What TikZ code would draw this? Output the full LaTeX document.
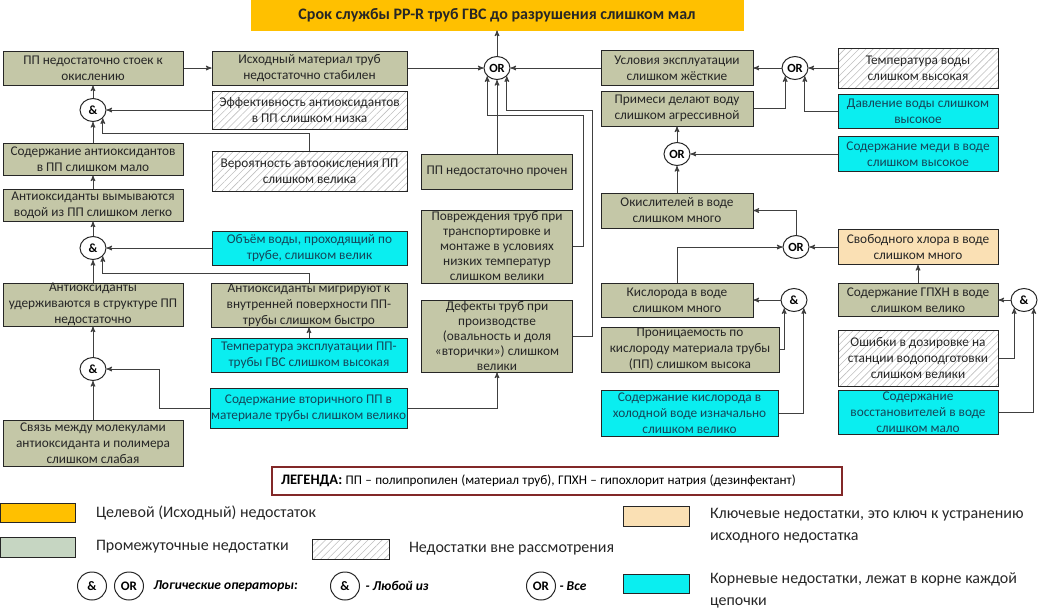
\documentclass[tikz,border=0pt]{standalone}
\usepackage{fontspec}
\setmainfont{Carlito}
\usetikzlibrary{arrows,shapes,calc,positioning,patterns.meta}

\definecolor{goalorange}{RGB}{255,192,0}
\definecolor{midgreen}{RGB}{196,199,167}
\definecolor{legendgreen}{RGB}{198,214,194}
\definecolor{rootcyan}{RGB}{10,238,240}
\definecolor{roottext}{RGB}{20,70,90}
\definecolor{keybeige}{RGB}{250,224,180}
\definecolor{legendred}{RGB}{130,40,40}
\newcommand{\bxf}{\fontsize{13.3}{16}\selectfont}

\begin{document}
\begin{tikzpicture}[x=1pt,y=-1pt,>=stealth',line width=1pt]
  \useasboundingbox (0,0) rectangle (1047,611);
  \begin{scope}
  \tikzstyle{base node}=[draw=black!85,line width=1pt,align=center,inner sep=0pt,font=\bxf,text=black!85]
  \tikzstyle{goal node}=[base node,draw=goalorange,fill=goalorange,font=\bfseries\fontsize{16}{18}\selectfont]
  \tikzstyle{mid node}=[base node,fill=midgreen]
  \tikzstyle{root node}=[base node,fill=rootcyan,text=roottext]
  \tikzstyle{out node}=[base node,pattern={Lines[angle=45,distance=5pt,line width=0.6pt]},pattern color=black!25]
  \tikzstyle{key node}=[base node,fill=keybeige]
  \tikzstyle{and node}=[ellipse,draw=black!85,fill=white,line width=1pt,inner sep=0pt,minimum width=26,minimum height=23,font=\bfseries\fontsize{12.5}{12}\selectfont]
  \tikzstyle{link}=[->,black!75]
  % goal
  \node[goal node,minimum width=492,minimum height=30] (goal) at (497,15) {Срок службы PP-R труб ГВС до разрушения слишком мал};
  \node[and node] (or0) at (497,68) {OR};
  % left branch
  \node[mid node,minimum width=180,minimum height=34] (b1) at (93,68) {ПП недостаточно стоек к\\окислению};
  \node[mid node,minimum width=195,minimum height=34] (b2) at (309.5,68) {Исходный материал труб\\недостаточно стабилен};
  \node[out node,minimum width=195,minimum height=38] (b3) at (309.5,110) {Эффективность антиоксидантов\\в ПП слишком низка};
  \node[out node,minimum width=195,minimum height=40] (b4) at (309.5,171) {Вероятность автоокисления ПП\\слишком велика};
  \node[and node] (and1) at (93,110) {\&};
  \node[mid node,minimum width=180,minimum height=32] (b5) at (93,159) {Содержание антиоксидантов\\в ПП слишком мало};
  \node[mid node,minimum width=180,minimum height=32] (b6) at (93,205) {Антиоксиданты вымываются\\водой из ПП слишком легко};
  \node[and node] (and2) at (93,248) {\&};
  \node[root node,minimum width=195,minimum height=34] (b7) at (309.5,248) {Объём воды, проходящий по\\трубе, слишком велик};
  \node[mid node,minimum width=180,minimum height=43] (b8) at (93,304.5) {Антиоксиданты\\удерживаются в структуре ПП\\недостаточно};
  \node[mid node,minimum width=196,minimum height=44] (b9) at (309,305) {Антиоксиданты мигрируют к\\внутренней поверхности ПП-\\трубы слишком быстро};
  \node[root node,minimum width=196,minimum height=34] (b10) at (309,355) {Температура эксплуатации ПП-\\трубы ГВС слишком высокая};
  \node[and node] (and3) at (93,369) {\&};
  \node[mid node,minimum width=180,minimum height=46] (b11) at (93,443) {Связь между молекулами\\антиоксиданта и полимера\\слишком слабая};
  \node[root node,minimum width=197,minimum height=40] (b12) at (308.5,408) {Содержание вторичного ПП в\\материале трубы слишком велико};
  % middle branch
  \node[mid node,minimum width=151,minimum height=35] (b13) at (497,171.5) {ПП недостаточно прочен};
  \node[mid node,minimum width=151,minimum height=73,font=\fontsize{13.3}{15}\selectfont] (b14) at (497,246.5) {Повреждения труб при\\транспортировке и\\монтаже в условиях\\низких температур\\слишком велики};
  \node[mid node,minimum width=151,minimum height=72,font=\fontsize{13.3}{15}\selectfont] (b15) at (497,336) {Дефекты труб при\\производстве\\(овальность и доля\\«вторички») слишком\\велики};
  % right branch
  \node[mid node,minimum width=152,minimum height=35] (b16) at (677,68) {Условия эксплуатации\\слишком жёсткие};
  \node[and node] (or2) at (795,68) {OR};
  \node[out node,minimum width=160,minimum height=40] (b17) at (918,68) {Температура воды\\слишком высокая};
  \node[root node,minimum width=160,minimum height=34] (b18) at (918,111) {Давление воды слишком\\высокое};
  \node[mid node,minimum width=152,minimum height=35] (b19) at (677,108.5) {Примеси делают воду\\слишком агрессивной};
  \node[and node] (or3) at (677,154) {OR};
  \node[root node,minimum width=160,minimum height=35] (b20) at (918,154) {Содержание меди в воде\\слишком высокое};
  \node[mid node,minimum width=152,minimum height=35] (b21) at (677,210.5) {Окислителей в воде\\слишком много};
  \node[and node] (or4) at (796,247) {OR};
  \node[key node,minimum width=160,minimum height=35] (b22) at (918,247) {Свободного хлора в воде\\слишком много};
  \node[mid node,minimum width=152,minimum height=34] (b23) at (677,300) {Кислорода в воде\\слишком много};
  \node[and node] (and4) at (794,300) {\&};
  \node[mid node,minimum width=178,minimum height=45] (b24) at (690,349.5) {Проницаемость по\\кислороду материала трубы\\(ПП) слишком высока};
  \node[root node,minimum width=177,minimum height=46] (b25) at (689.5,413) {Содержание кислорода в\\холодной воде изначально\\слишком велико};
  \node[mid node,minimum width=160,minimum height=33] (b26) at (918,300) {Содержание ГПХН в воде\\слишком велико};
  \node[and node] (and5) at (1024,300) {\&};
  \node[out node,minimum width=160,minimum height=56] (b27) at (918,358) {Ошибки в дозировке на\\станции водоподготовки\\слишком велики};
  \node[root node,minimum width=160,minimum height=44] (b28) at (918,412) {Содержание\\восстановителей в воде\\слишком мало};

  % links
  \draw[link] (or0) -- (goal);
  \draw[link] (b1) -- (b2);
  \draw[link] (b2) -- (or0);
  \draw[link] (and1) -- (b1);
  \draw[link] (b3) -- (and1);
  \draw[link] (b4.north) -- ++(0,-17) -| (and1.-40);
  \draw[link] (b5) -- (and1);
  \draw[link] (b6) -- (b5);
  \draw[link] (and2) -- (b6);
  \draw[link] (b7) -- (and2);
  \draw[link] (b8) -- (and2);
  \draw[link] (b9.north) -- ++(0,-9) -| (and2.-40);
  \draw[link] (b10) -- (b9);
  \draw[link] (and3) -- (b8);
  \draw[link] (b11) -- (and3);
  \draw[link] (b12.west) -- ++(-50,0) |- (and3.east);
  \draw[link] (b12.east) -| (b15.south);
  \draw[link] (b13.north) -- (or0.south);
  \draw[link] (b14.east) -- ++(10,0) -- ++(0,-131.5) -| (or0.-140);
  \draw[link] (b15.east) -- ++(19,0) -- ++(0,-226) -| (or0.-40);
  \draw[link] (b16) -- (or0);
  \draw[link] (or2) -- (b16);
  \draw[link] (b17) -- (or2);
  \draw[link] (b18.west) -| (or2.-40);
  \draw[link] (b19.east) -| (or2.-140);
  \draw[link] (or3) -- (b19);
  \draw[link] (b20) -- (or3);
  \draw[link] (b21) -- (or3);
  \draw[link] (or4.north) |- (b21.east);
  \draw[link] (b22) -- (or4);
  \draw[link] (b23.north) |- (or4.west);
  \draw[link] (and4) -- (b23);
  \draw[link] (b24.east) -| (and4.-140);
  \draw[link] (b25.east) -| (and4.-40);
  \draw[link] (b26) -- (b22);
  \draw[link] (and5) -- (b26);
  \draw[link] (b27.east) -| (and5.-140);
  \draw[link] (b28.east) -| (and5.-40);
  \end{scope}

  \begin{scope}[node distance=20]
  \tikzstyle{swatch}=[draw=black!85,line width=1pt,minimum width=75,minimum height=19,inner sep=0pt]
  \tikzstyle{legend text}=[inner sep=0pt,font=\fontsize{16}{22}\selectfont,text=black!85,align=left]
  \tikzstyle{op node}=[ellipse,draw=black!85,line width=1pt,inner sep=0pt,minimum width=29,minimum height=28,font=\bfseries\fontsize{13}{12}\selectfont]
  \tikzstyle{op text}=[inner sep=0pt,font=\bfseries\itshape\fontsize{13.5}{14}\selectfont]
  \node[draw=legendred,line width=1.5pt,minimum width=570,minimum height=28,text width=552,align=left,inner sep=0pt] (legend) at (557,481)
    {{\bfseries\fontsize{14.5}{16}\selectfont ЛЕГЕНДА:} {\fontsize{13.2}{16}\selectfont ПП – полипропилен (материал труб), ГПХН – гипохлорит натрия (дезинфектант)}};
  \node[swatch,fill=goalorange] (sw1) at (37.5,512.5) {};
  \node[legend text,right=of sw1] (t1) {Целевой (Исходный) недостаток};
  \node[swatch,fill=legendgreen,minimum height=20] (sw2) at (37.5,547) {};
  \node[legend text,right=of sw2] (t2) {Промежуточные недостатки};
  \node[swatch,minimum width=77,minimum height=20,pattern={Lines[angle=45,distance=5pt,line width=0.6pt]},pattern color=black!25] (sw3) at (350.5,549) {};
  \node[legend text,right=19 of sw3] (t3) {Недостатки вне рассмотрения};
  \node[swatch,fill=keybeige,minimum width=66,minimum height=20] (sw4) at (656,516) {};
  \node[legend text,right=20 of sw4,yshift=-10] (t4) {Ключевые недостатки, это ключ к устранению\\исходного недостатка};
  \node[swatch,fill=rootcyan,minimum width=66] (sw5) at (656,583.5) {};
  \node[legend text,right=20 of sw5,yshift=-7] (t5) {Корневые недостатки, лежат в корне каждой\\цепочки};
  \node[op node] (lc1) at (92,586) {\&};
  \node[op node] (lc2) at (129,586) {OR};
  \node[op text,right=9 of lc2] (ops) {Логические операторы:};
  \node[op node] (lc3) at (345,586) {\&};
  \node[op text,right=5 of lc3] (any) {- Любой из};
  \node[op node] (lc4) at (541,586) {OR};
  \node[op text,right=3 of lc4] (all) {- Все};
  \end{scope}
\end{tikzpicture}
\end{document}
